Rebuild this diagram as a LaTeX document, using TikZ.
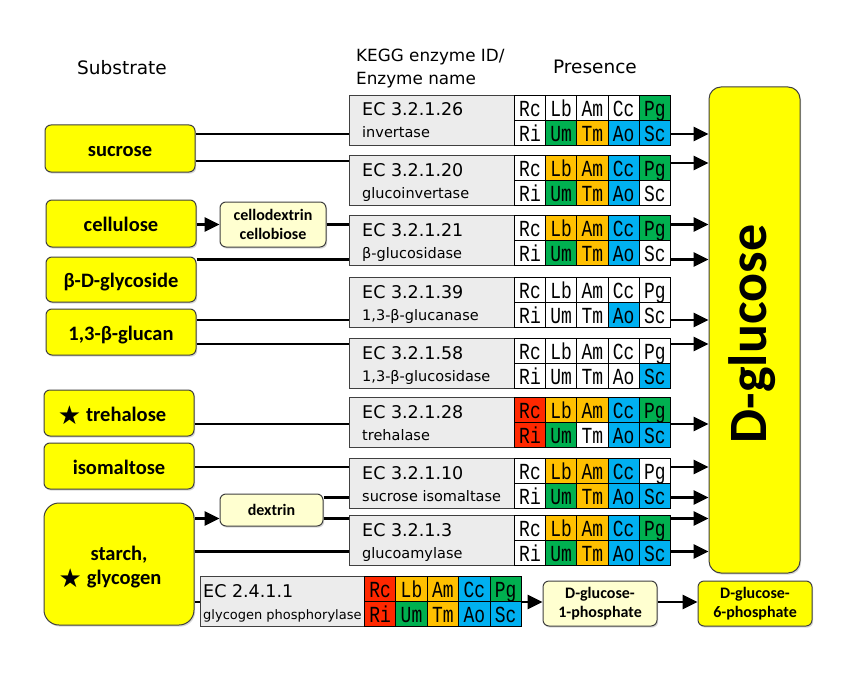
\documentclass[tikz,border=0pt]{standalone}
\usepackage{fontspec}
\setmainfont{Carlito}
\newfontfamily\dvfont{DejaVu Sans}
\newfontfamily\gridfont[FakeStretch=0.78]{Liberation Mono}
\usetikzlibrary{arrows.meta,shadows}
\definecolor{cG}{RGB}{0,176,80}
\definecolor{cO}{RGB}{255,192,0}
\definecolor{cB}{RGB}{0,176,240}
\definecolor{cR}{RGB}{255,40,0}
\definecolor{cW}{RGB}{255,255,255}
\definecolor{ecgrey}{RGB}{236,236,236}
\definecolor{subyellow}{RGB}{255,255,0}
\definecolor{paleyellow}{RGB}{255,255,208}
\newcommand\blackstar{\raisebox{-3pt}{\dvfont\fontsize{26}{26}\selectfont ★}}
\tikzset{
  shad/.style={drop shadow={opacity=0.3, shadow xshift=1.2pt, shadow yshift=-1.6pt}},
  subst/.style={shad, draw=black!75, line width=1pt, fill=subyellow, rounded corners=6pt,
    minimum width=150, inner sep=0, text height=16pt, text depth=0pt,
    font=\bfseries\fontsize{20.5}{24}\selectfont},
  sublab/.style={inner sep=0, font=\bfseries\fontsize{20.5}{24}\selectfont},
  inter/.style={shad, draw=black!75, line width=1pt, fill=paleyellow, rounded corners=6pt,
    inner sep=0, align=center, font=\bfseries\fontsize{16}{18.5}\selectfont},
  hdr/.style={inner sep=0, font=\dvfont\fontsize{18.5}{22}\selectfont},
  ecbox/.style={draw=black!75, line width=0.9pt, fill=ecgrey, anchor=north west, inner sep=0},
  eclab/.style={inner sep=0, font=\dvfont\fontsize{17.5}{20}\selectfont},
  ecsub/.style={inner sep=0, font=\dvfont\fontsize{14.5}{17}\selectfont},
  cell/.style={draw=black, line width=0.8pt, anchor=north west, minimum height=25,
    inner sep=0, text height=18pt, text depth=0pt, font=\gridfont\fontsize{23}{23}\selectfont},
  conn/.style={line width=2.8pt, black},
  arr/.style={conn, -{Triangle[length=15pt,width=14pt]}}
}
% #1 name, #2 x, #3 y, #4 grey width, #5 cell width, #6 text x offset, #7 EC, #8 name, #9 cells
\newcommand\ecrow[9]{%
  \node[ecbox, minimum width=#4, minimum height=50] (#1) at (#2,#3) {};
  \node[eclab, anchor=base west] (#1-id) at (#2+#6, #3+21) {#7};
  \node[ecsub, anchor=base west] (#1-nm) at (#2+#6, #3+43) {#8};
  \foreach \lab/\c [count=\i from 0] in {#9} {%
    \pgfmathtruncatemacro\col{mod(\i,5)}%
    \pgfmathtruncatemacro\rw{\i>4}%
    \node[cell, fill=\c, minimum width=#5] (#1-c\i) at (#2+#4+\col*#5, #3+\rw*25) {\lab};
  }%
}
\begin{document}
\begin{tikzpicture}[x=1pt,y=-1pt]
\useasboundingbox[fill=white] (0,0) rectangle (842,687);

% headers
\node[hdr, anchor=base] (hsub) at (122,75) {Substrate};
\node[hdr, font=\dvfont\fontsize{16.8}{20}\selectfont, anchor=base west] (hkegg1) at (356,62) {KEGG enzyme ID/};
\node[hdr, font=\dvfont\fontsize{16.8}{20}\selectfont, anchor=base west] (hkegg2) at (356,85) {Enzyme name};
\node[hdr, anchor=base] (hpres) at (595,74) {Presence};

% substrates
\node[subst, minimum height=47] (sucrose) at (120,148.5) {sucrose};
\node[subst, minimum height=47] (cellulose) at (121,223.5) {cellulose};
\node[subst, minimum height=45] (bdg) at (121,279.5) {β-D-glycoside};
\node[subst, minimum height=46] (glucan) at (121,332) {1,3-β-glucan};
\node[subst, minimum height=46] (treh) at (119,413) {};
\node[sublab, anchor=base] (trehl) at (112,421) {\blackstar\hspace{5pt}trehalose};
\node[subst, minimum height=46] (isom) at (119,466) {isomaltose};
\node[subst, minimum height=122, rounded corners=15pt] (starch) at (119,564) {};
\node[sublab, anchor=base] (starchl1) at (119,560) {starch,};
\node[sublab, anchor=base] (starchl2) at (110,584) {\blackstar\hspace{5pt}glycogen};

% intermediates and products
\node[inter, minimum width=106, minimum height=45] (cello) at (273,224.5) {cellodextrin\\cellobiose};
\node[inter, minimum width=103, minimum height=32] (dextrin) at (271.5,510) {dextrin};
\node[inter, minimum width=114, minimum height=45] (g1p) at (600,603.5) {D-glucose-\\1-phosphate};
\node[inter, fill=subyellow, minimum width=114, minimum height=45] (g6p) at (755,603.5) {D-glucose-\\6-phosphate};
\node[subst, rounded corners=12pt, minimum width=91, minimum height=486, text height=, text depth=] (dglc) at (754.5,330) {};
\node[rotate=90, inner sep=0, font=\bfseries\fontsize{54}{54}\selectfont] (dglct) at (752,334) {D-glucose};

% enzyme rows
\ecrow{e1}{349}{95}{165}{31.2}{13}{EC 3.2.1.26}{invertase}{Rc/cW,Lb/cW,Am/cW,Cc/cW,Pg/cG,Ri/cW,Um/cG,Tm/cO,Ao/cB,Sc/cB}
\ecrow{e2}{349}{155}{165}{31.2}{13}{EC 3.2.1.20}{glucoinvertase}{Rc/cW,Lb/cO,Am/cO,Cc/cB,Pg/cG,Ri/cW,Um/cG,Tm/cO,Ao/cB,Sc/cW}
\ecrow{e3}{349}{215}{165}{31.2}{13}{EC 3.2.1.21}{β-glucosidase}{Rc/cW,Lb/cO,Am/cO,Cc/cB,Pg/cG,Ri/cW,Um/cG,Tm/cO,Ao/cB,Sc/cW}
\ecrow{e4}{349}{277}{165}{31.2}{13}{EC 3.2.1.39}{1,3-β-glucanase}{Rc/cW,Lb/cW,Am/cW,Cc/cW,Pg/cW,Ri/cW,Um/cW,Tm/cW,Ao/cB,Sc/cW}
\ecrow{e5}{349}{338}{165}{31.2}{13}{EC 3.2.1.58}{1,3-β-glucosidase}{Rc/cW,Lb/cW,Am/cW,Cc/cW,Pg/cW,Ri/cW,Um/cW,Tm/cW,Ao/cW,Sc/cB}
\ecrow{e6}{349}{397}{165}{31.2}{13}{EC 3.2.1.28}{trehalase}{Rc/cR,Lb/cO,Am/cO,Cc/cB,Pg/cG,Ri/cR,Um/cG,Tm/cW,Ao/cB,Sc/cB}
\ecrow{e7}{349}{458}{165}{31.2}{13}{EC 3.2.1.10}{sucrose isomaltase}{Rc/cW,Lb/cO,Am/cO,Cc/cB,Pg/cW,Ri/cW,Um/cG,Tm/cO,Ao/cB,Sc/cB}
\ecrow{e8}{349}{515}{165}{31.2}{13}{EC 3.2.1.3}{glucoamylase}{Rc/cW,Lb/cO,Am/cO,Cc/cB,Pg/cG,Ri/cW,Um/cG,Tm/cO,Ao/cB,Sc/cB}
\ecrow{e9}{200}{576}{164}{31.4}{3}{EC 2.4.1.1}{\fontsize{13}{15}\selectfont glycogen phosphorylase}{Rc/cR,Lb/cO,Am/cO,Cc/cB,Pg/cG,Ri/cR,Um/cG,Tm/cO,Ao/cB,Sc/cB}

% y levels
\coordinate (yA) at (0,134);
\coordinate (yB) at (0,161);
\coordinate (yB2) at (0,163);
\coordinate (yC) at (0,224.5);
\coordinate (yD) at (0,259.5);
\coordinate (yE) at (0,320);
\coordinate (yF) at (0,344);
\coordinate (yG) at (0,424);
\coordinate (yH) at (0,467);
\coordinate (yI) at (0,497.5);
\coordinate (yJ) at (0,518.5);
\coordinate (yK) at (0,551.5);
\coordinate (yL) at (0,602);

% left connectors
\draw[conn] (sucrose.east |- yA) -- (e1.west |- yA);
\draw[conn] (sucrose.east |- yB) -- (e2.west |- yB);
\draw[arr] (cellulose.east |- yC) -- (cello.west |- yC);
\draw[conn] (cello.east |- yC) -- (e3.west |- yC);
\draw[conn] (bdg.east |- yD) -- (e3.west |- yD);
\draw[conn] (glucan.east |- yE) -- (e4.west |- yE);
\draw[conn] (glucan.east |- yF) -- (e5.west |- yF);
\draw[conn] (treh.east |- yG) -- (e6.west |- yG);
\draw[conn] (isom.east |- yH) -- (e7.west |- yH);
\draw[arr] (starch.east |- yJ) -- (dextrin.west |- yJ);
\draw[conn] (dextrin.east |- yI) -- (e7.west |- yI);
\draw[conn] (dextrin.east |- yJ) -- (e8.west |- yJ);
\draw[conn] (starch.east |- yK) -- (e8.west |- yK);
\draw[conn] (starch.east |- yL) -- (e9.west |- yL);
\draw[arr] (e9-c9.east |- yL) -- (g1p.west |- yL);
\draw[arr] (g1p.east |- yL) -- (g6p.west |- yL);

% right arrows
\draw[arr] (e1-c9.east |- yA) -- (dglc.west |- yA);
\draw[arr] (e2-c4.east |- yB2) -- (dglc.west |- yB2);
\draw[arr] (e3-c4.east |- yC) -- (dglc.west |- yC);
\draw[arr] (e3-c9.east |- yD) -- (dglc.west |- yD);
\draw[arr] (e4-c9.east |- yE) -- (dglc.west |- yE);
\draw[arr] (e5-c4.east |- yF) -- (dglc.west |- yF);
\draw[arr] (e6-c9.east |- yG) -- (dglc.west |- yG);
\draw[arr] (e7-c4.east |- yH) -- (dglc.west |- yH);
\draw[arr] (e7-c9.east |- yI) -- (dglc.west |- yI);
\draw[arr] (e8-c4.east |- yJ) -- (dglc.west |- yJ);
\draw[arr] (e8-c9.east |- yK) -- (dglc.west |- yK);
\end{tikzpicture}
\end{document}
